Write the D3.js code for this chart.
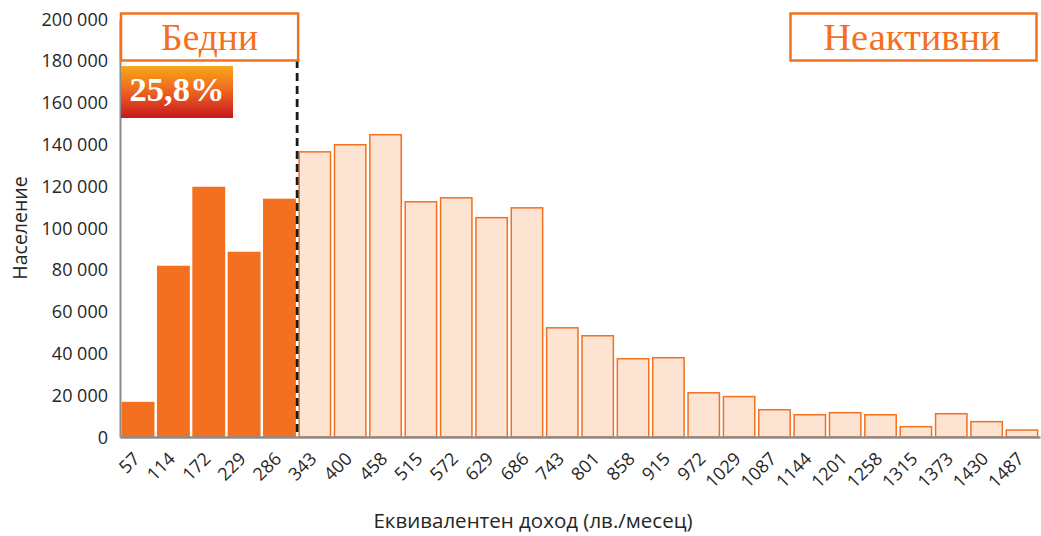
<!DOCTYPE html>
<html><head><meta charset="utf-8">
<script src="https://cdn.jsdelivr.net/npm/d3@7"></script>
<style>
body{margin:0;background:#fff;}
svg text{font-family:"Open Sans","Noto Sans",sans-serif;}
</style></head>
<body><svg id="c" width="1041" height="536"></svg>
<script>
const categories = ["57","114","172","229","286","343","400","458","515","572","629","686","743","801","858","915","972","1029","1087","1144","1201","1258","1315","1373","1430","1487"];
const population = [17200,82300,120100,89000,114400,136800,140200,145000,112900,114800,105300,110000,52600,48800,37800,38300,21500,19700,13400,11000,12000,11000,5300,11500,7700,3700];
const poorCount = 5;
const yTicks = [0,20000,40000,60000,80000,100000,120000,140000,160000,180000,200000];
const labelPoor = "Бедни";
const labelInactive = "Неактивни";
const poorShare = "25,8%";
const xTitle = "Еквивалентен доход (лв./месец)";
const yTitle = "Население";

(function(){
const svg = d3.select("#c");
const pL = 120, pR = 1041, pT = 19, pB = 437;
const x = d3.scaleBand().domain(categories).range([pL, pR-1]).paddingInner(0.07).paddingOuter(0.045);
const y = d3.scaleLinear().domain([0,200000]).range([pB, pT]);
const fmt = v => v === 0 ? "0" : d3.format(",")(v).replace(/,/g, " ");

// y axis
const ya = svg.append("g").attr("transform",`translate(${pL},0)`)
  .call(d3.axisLeft(y).tickValues(yTicks).tickFormat(fmt).tickSize(0).tickPadding(12));
ya.select(".domain").attr("stroke","#8c8c8c").attr("stroke-width",2);
ya.selectAll("text").attr("font-size",18).attr("fill","#262626").attr("dy","0.34em");

// bars
svg.append("g").selectAll("rect").data(population).join("rect")
  .attr("x",(d,i)=> x(categories[i]) + (i<poorCount?0:0.75))
  .attr("width",(d,i)=> x.bandwidth() - (i<poorCount?0:1.5))
  .attr("y",d=> y(d) + 0.75)
  .attr("height",d=> pB - y(d) - 0.75)
  .attr("fill",(d,i)=> i<poorCount ? "#f37021" : "#fde3d2")
  .attr("stroke",(d,i)=> i<poorCount ? "none" : "#f37021")
  .attr("stroke-width",1.5);

// x axis
const xa = svg.append("g").attr("transform",`translate(0,${pB})`)
  .call(d3.axisBottom(x).tickSize(0).tickPadding(0));
xa.select(".domain").attr("stroke","#8c8c8c").attr("stroke-width",2.5);
xa.selectAll("text").attr("font-size",18).attr("fill","#262626")
  .attr("text-anchor","end").attr("dy",0)
  .attr("transform","translate(3,23) rotate(-45)");

// dashed separator
const sepX = x(categories[poorCount-1]) + x.bandwidth() + (x.step()-x.bandwidth())/2;
svg.append("line").attr("x1",sepX).attr("x2",sepX).attr("y1",60).attr("y2",pB)
  .attr("stroke","#1a1a1a").attr("stroke-width",2.8).attr("stroke-dasharray","8,5");

// boxes
svg.append("rect").attr("x",pL+1).attr("y",13.5).attr("width",sepX-pL).attr("height",47)
  .attr("fill","#fff").attr("stroke","#f37021").attr("stroke-width",2.5);
svg.append("text").attr("x",(pL+sepX)/2+1).attr("y",50).attr("text-anchor","middle")
  .style("font-family","'Liberation Serif',serif").attr("font-size",37.5).attr("fill","#f37021").text(labelPoor);

svg.append("rect").attr("x",790.5).attr("y",13.5).attr("width",246).attr("height",47)
  .attr("fill","#fff").attr("stroke","#f37021").attr("stroke-width",2.5);
svg.append("text").attr("x",912).attr("y",50).attr("text-anchor","middle")
  .style("font-family","'Liberation Serif',serif").attr("font-size",38.5).attr("fill","#f37021").text(labelInactive);

const grad = svg.append("defs").append("linearGradient").attr("id","g1").attr("x1",0).attr("y1",0).attr("x2",0).attr("y2",1);
grad.append("stop").attr("offset","0%").attr("stop-color","#f7a81b");
grad.append("stop").attr("offset","45%").attr("stop-color","#ee6a20");
grad.append("stop").attr("offset","100%").attr("stop-color","#c8161e");
svg.append("rect").attr("x",pL+1).attr("y",66).attr("width",112).attr("height",52).attr("fill","url(#g1)");
svg.append("text").attr("x",pL+57).attr("y",101).attr("text-anchor","middle")
  .style("font-family","'Liberation Serif',serif").attr("font-weight","bold").attr("font-size",34.5).attr("fill","#fff").text(poorShare);

// titles
svg.append("text").attr("x",533).attr("y",528).attr("text-anchor","middle").attr("font-size",20.5).attr("fill","#262626").text(xTitle);
svg.append("text").attr("transform","translate(27,228) rotate(-90)").attr("text-anchor","middle").attr("font-size",19.5).attr("fill","#262626").text(yTitle);
})();
</script></body></html>
